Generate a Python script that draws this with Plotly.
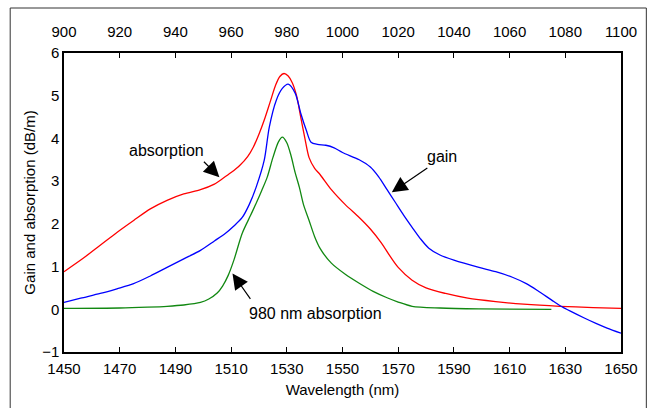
import plotly.graph_objects as go

# Erbium-doped fibre spectra: wavelength (nm) vs dB/m
wl_absorption = [1450, 1457, 1463, 1469, 1475, 1481, 1487, 1493, 1499, 1504, 1507,
                 1510, 1513, 1516, 1518, 1520, 1522, 1524, 1526, 1527.5, 1529, 1530.5,
                 1532, 1533.5, 1535, 1536.5, 1538, 1540, 1542, 1546, 1551, 1556, 1560,
                 1564, 1567, 1570, 1575, 1580, 1587, 1595, 1605, 1615, 1628, 1640, 1650]
absorption = [0.88, 1.2, 1.5, 1.8, 2.08, 2.35, 2.55, 2.7, 2.8, 2.93, 3.06,
              3.2, 3.36, 3.58, 3.8, 4.1, 4.45, 4.85, 5.25, 5.45, 5.52, 5.46,
              5.3, 5.0, 4.5, 4.0, 3.55, 3.3, 3.15, 2.8, 2.45, 2.15, 1.88,
              1.55, 1.25, 0.98, 0.68, 0.5, 0.37, 0.26, 0.18, 0.12, 0.07, 0.04, 0.02]

wl_gain = [1450, 1456, 1463, 1469, 1475, 1481, 1487, 1493, 1499, 1504, 1508,
           1511, 1514, 1516.5, 1519, 1521.9, 1523.7, 1526.2, 1528.4, 1530.5, 1533,
           1535, 1537, 1538.7, 1541, 1544, 1547, 1550, 1556, 1560, 1563, 1566,
           1569, 1572, 1575, 1578, 1581, 1585, 1590, 1599, 1605, 1611, 1616,
           1620, 1625, 1628, 1632, 1637, 1641, 1645, 1650]
gain = [0.16, 0.26, 0.37, 0.48, 0.6, 0.78, 0.98, 1.18, 1.38, 1.6, 1.78,
        1.95, 2.15, 2.45, 2.86, 3.49, 4.26, 4.89, 5.17, 5.27, 5.06,
        4.59, 4.19, 3.91, 3.86, 3.84, 3.78, 3.67, 3.5, 3.33, 3.1, 2.8,
        2.5, 2.2, 1.92, 1.65, 1.43, 1.27, 1.15, 0.98, 0.88, 0.75, 0.6,
        0.44, 0.22, 0.09, -0.05, -0.21, -0.33, -0.44, -0.56]

wl_pump = [1450, 1470, 1480, 1487, 1493, 1499, 1502, 1505, 1507, 1509, 1511,
           1514, 1517, 1519, 1521, 1523, 1525, 1527, 1528.4, 1530, 1531.5, 1533,
           1534.5, 1536, 1538, 1540, 1542, 1546, 1551, 1556, 1561, 1566, 1570,
           1575, 1585, 1599, 1625]
pump_absorption = [0.02, 0.03, 0.05, 0.07, 0.1, 0.16, 0.24, 0.38, 0.55, 0.8, 1.15,
                   1.78, 2.2, 2.48, 2.78, 3.1, 3.55, 3.92, 4.03, 3.9, 3.6, 3.2,
                   2.86, 2.45, 2.08, 1.7, 1.42, 1.08, 0.82, 0.61, 0.42, 0.27, 0.17,
                   0.07, 0.03, 0.01, 0.0]

bottom_ticks = [1450, 1470, 1490, 1510, 1530, 1550, 1570, 1590, 1610, 1630, 1650]
top_ticks = [900, 920, 940, 960, 980, 1000, 1020, 1040, 1060, 1080, 1100]
y_ticks = [-1, 0, 1, 2, 3, 4, 5, 6]

FONT = "Liberation Sans, Arial, sans-serif"
AXIS_FS = 15
NOTE_FS = 16

fig = go.Figure()
line_style = dict(width=1.3, shape="spline", smoothing=0.8)
fig.add_trace(go.Scatter(x=wl_absorption, y=absorption, mode="lines",
                         line=dict(color="#ff0000", **line_style), name="absorption"))
fig.add_trace(go.Scatter(x=wl_gain, y=gain, mode="lines",
                         line=dict(color="#0000ff", **line_style), name="gain"))
fig.add_trace(go.Scatter(x=wl_pump, y=pump_absorption, mode="lines",
                         line=dict(color="#118811", **line_style), name="980 nm absorption"))
# carrier trace so the top (980 nm band) axis is rendered
fig.add_trace(go.Scatter(x=[top_ticks[0], top_ticks[-1]], y=[None, None], xaxis="x2",
                         mode="lines", showlegend=False, hoverinfo="skip"))

axis_common = dict(showgrid=False, zeroline=False, showline=True, linecolor="black",
                   linewidth=1.5, tickfont=dict(family=FONT, size=AXIS_FS, color="black"))

fig.update_layout(
    width=650, height=408,
    margin=dict(l=64, r=27, t=53, b=56),
    paper_bgcolor="white", plot_bgcolor="white",
    showlegend=False,
    font=dict(family=FONT, size=AXIS_FS, color="black"),
    xaxis=dict(range=[bottom_ticks[0], bottom_ticks[-1]], tickvals=bottom_ticks,
               ticks="inside", ticklen=5, tickcolor="black", mirror=True,
               ticklabelstandoff=2,
               title=dict(text="Wavelength (nm)", font=dict(family=FONT, size=AXIS_FS), standoff=9),
               **axis_common),
    xaxis2=dict(range=[top_ticks[0], top_ticks[-1]], tickvals=top_ticks, overlaying="x",
                side="top", anchor="y", ticks="inside", ticklen=5, tickcolor="black",
                ticklabelstandoff=8, **axis_common),
    yaxis=dict(range=[y_ticks[0], y_ticks[-1]], tickvals=y_ticks, ticks="", mirror=True,
               ticklabelstandoff=0,
               title=dict(text="Gain and absorption (dB/m)", font=dict(family=FONT, size=AXIS_FS),
                          standoff=3),
               **axis_common),
)

# outer frame around the figure
fig.add_shape(type="rect", xref="paper", yref="paper",
              x0=-0.0966, x1=1.0455, y0=-0.25, y1=1.1505,
              line=dict(color="#333333", width=1), fillcolor="rgba(0,0,0,0)", layer="below")

# curve labels with pointer arrows: (text, text x, text y, tail x, tail y, head x, head y)
labels = [
    ("absorption", 1486.9, 3.72, 1499.7, 3.49, 1505.8, 3.09),
    ("gain", 1585.6, 3.58, 1581.0, 3.33, 1567.7, 2.74),
    ("980 nm absorption", 1540.2, -0.11, 1517.3, 0.21, 1510.5, 0.84),
]
for text, tx, ty, ax_, ay_, hx, hy in labels:
    fig.add_annotation(x=tx, y=ty, xref="x", yref="y", text=text, showarrow=False,
                       font=dict(family=FONT, size=NOTE_FS, color="black"))
    fig.add_annotation(x=hx, y=hy, xref="x", yref="y", ax=ax_, ay=ay_, axref="x", ayref="y",
                       text="", showarrow=True, arrowhead=2, arrowsize=2.6, arrowwidth=1.2,
                       arrowcolor="black")

fig.write_html("out.html")
